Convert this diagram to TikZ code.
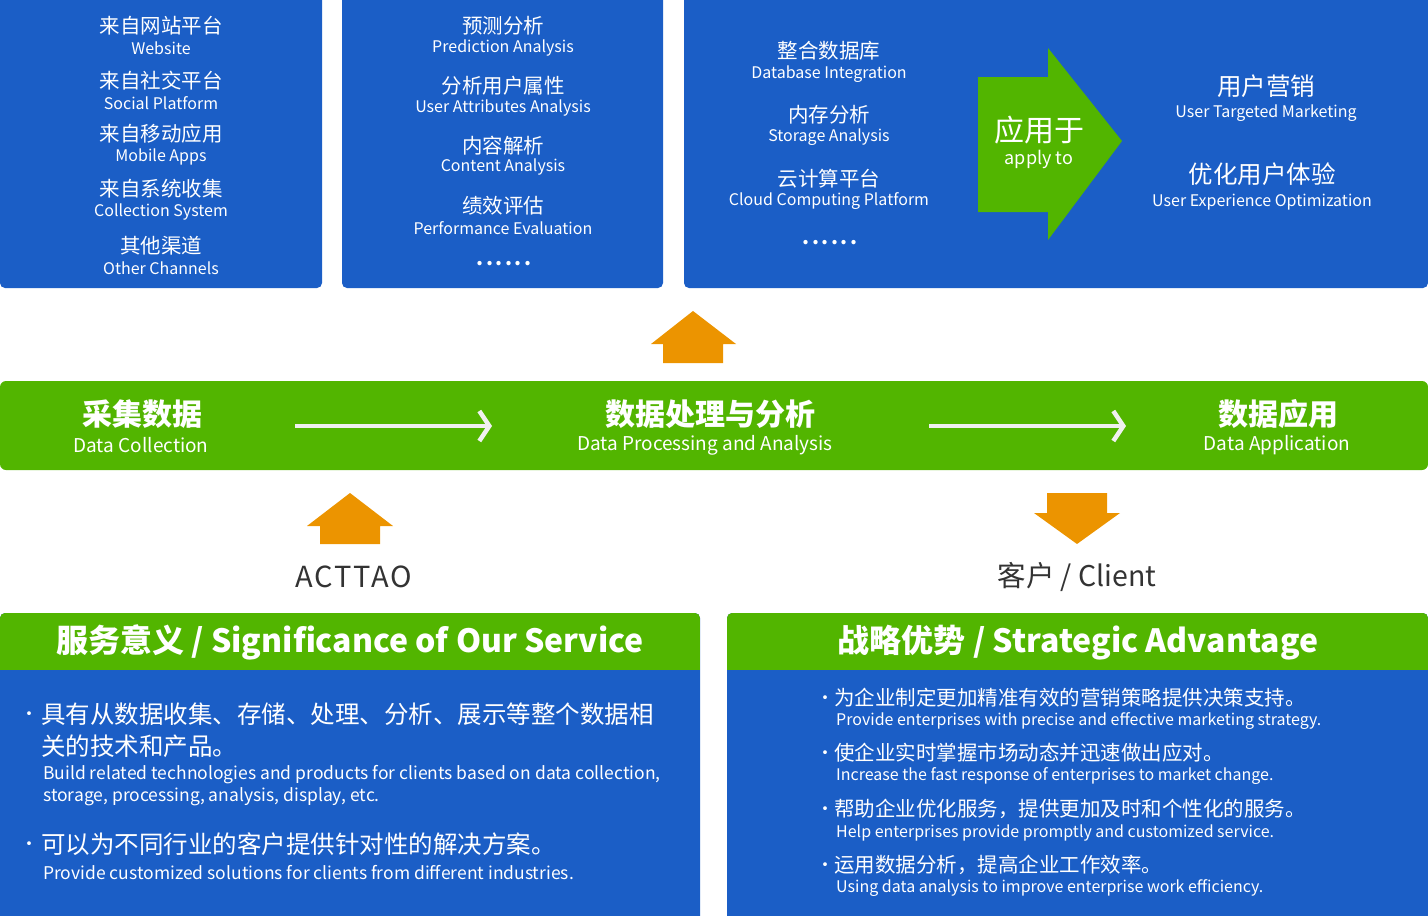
\documentclass[tikz,border=0pt]{standalone}
\usepackage{fontspec}
\setmainfont{Noto Sans CJK SC}
\usetikzlibrary{arrows.meta}
\definecolor{pblue}{HTML}{1B5EC6}
\definecolor{pgreen}{HTML}{52B500}
\definecolor{porange}{HTML}{EC9400}
\definecolor{pgray}{HTML}{333333}
\definecolor{pwhite}{HTML}{F0F0F0}
\newcommand{\fs}[1]{\fontsize{#1}{#1}\selectfont}
\tikzset{
  panel/.style={fill=pblue, rounded corners=5pt},
  band/.style={fill=pgreen, rounded corners=6pt},
  oarrow/.style={fill=porange},
  cn/.style={text=white, inner sep=0pt, yshift=-1pt, font=\fs{20.5}},
  en/.style={text=white, inner sep=0pt, yshift=-1.5pt, font=\fs{16}},
  bcn/.style={text=white, inner sep=0pt, yshift=-1.5pt, font=\fs{30}\bfseries},
  ben/.style={text=white, inner sep=0pt, yshift=-0.5pt, font=\fs{19}},
  hd/.style={text=white, inner sep=0pt, yshift=-1.5pt, font=\fs{32}\bfseries},
  lcn/.style={text=white, inner sep=0pt, anchor=west, yshift=-1pt, font=\fs{24.5}},
  len/.style={text=white, inner sep=0pt, anchor=west, yshift=-1pt, font=\fs{17.5}},
  rcn/.style={text=white, inner sep=0pt, anchor=west, yshift=-1pt, font=\fs{20.5}},
  ren/.style={text=white, inner sep=0pt, anchor=west, yshift=-1pt, font=\fs{16}},
  dot/.style={text=white, inner sep=0pt, yshift=-3pt, font=\fs{18}},
  ell/.style={text=white, inner sep=0pt, font=\fs{20}\bfseries\addfontfeatures{LetterSpace=12}},
  gtxt/.style={text=pgray, inner sep=0pt, yshift=-1pt, font=\fs{28.5}},
  warrow/.style={draw=pwhite, line width=4.5pt, -{Straight Barb[length=10pt,width=30pt,line width=4.5pt]}},
}
\begin{document}
\begin{tikzpicture}[x=1pt,y=-1pt]
\useasboundingbox (0,0) rectangle (1428,916);
% top panels
\fill[panel] (0,-10) rectangle (322,288);
\fill[panel] (342,-10) rectangle (663,288);
\fill[panel] (684,-10) rectangle (1428,288);
% panel 1
\node[cn] (p1a) at (161,25) {来自网站平台};
\node[en] (p1b) at (161,47) {Website};
\node[cn] (p1c) at (161,80) {来自社交平台};
\node[en] (p1d) at (161,102) {Social Platform};
\node[cn] (p1e) at (161,133) {来自移动应用};
\node[en] (p1f) at (161,155) {Mobile Apps};
\node[cn] (p1g) at (161,188) {来自系统收集};
\node[en] (p1h) at (161,210) {Collection System};
\node[cn] (p1i) at (161,245) {其他渠道};
\node[en] (p1j) at (161,267) {Other Channels};
% panel 2
\node[cn] (p2a) at (503,25) {预测分析};
\node[en] (p2b) at (503,47) {Prediction Analysis};
\node[cn] (p2c) at (503,85) {分析用户属性};
\node[en] (p2d) at (503,107) {User Attributes Analysis};
\node[cn] (p2e) at (503,145) {内容解析};
\node[en] (p2f) at (503,166) {Content Analysis};
\node[cn] (p2g) at (503,205) {绩效评估};
\node[en] (p2h) at (503,227) {Performance Evaluation};
\node[ell] (p2i) at (504,264) {......};
% panel 3
\node[cn] (p3a) at (829,50) {整合数据库};
\node[en] (p3b) at (829,73) {Database Integration};
\node[cn] (p3c) at (829,114) {内存分析};
\node[en] (p3d) at (829,136) {Storage Analysis};
\node[cn] (p3e) at (829,178) {云计算平台};
\node[en] (p3f) at (829,200) {Cloud Computing Platform};
\node[ell] (p3g) at (830,243) {......};
\fill[pgreen] (978,77) -- (1048,77) -- (1048,48) -- (1122,141) -- (1048,240) -- (1048,212) -- (978,212) -- cycle;
\node[text=white, inner sep=0pt, yshift=-1pt, font=\fs{30}] (apply) at (1039,129) {应用于};
\node[text=white, inner sep=0pt, yshift=-1.5pt, font=\fs{18}] (applyen) at (1039,158) {apply to};
\node[text=white, inner sep=0pt, yshift=-1pt, font=\fs{24.5}] (p3h) at (1266,85) {用户营销};
\node[en] (p3i) at (1266,112) {User Targeted Marketing};
\node[text=white, inner sep=0pt, yshift=-1pt, font=\fs{24.5}] (p3j) at (1262,173) {优化用户体验};
\node[en] (p3k) at (1262,201) {User Experience Optimization};
% orange up arrow (middle)
\fill[oarrow] (693,311) -- (736,344) -- (723,344) -- (723,363) -- (663,363) -- (663,344) -- (651,344) -- cycle;
% green band
\fill[band] (0,381) rectangle (1428,470);
\node[bcn] (s1) at (142,413) {采集数据};
\node[ben] (s1e) at (141,445) {Data Collection};
\node[bcn] (s2) at (710,413) {数据处理与分析};
\node[ben] (s2e) at (705,445) {Data Processing and Analysis};
\node[bcn] (s3) at (1278,413) {数据应用};
\node[ben] (s3e) at (1277,445) {Data Application};
\coordinate (w1s) at (295,426);
\coordinate (w1e) at (492,426);
\coordinate (w2s) at (929,426);
\coordinate (w2e) at (1126,426);
\draw[warrow] (w1s) -- (w1e);
\draw[warrow] (w2s) -- (w2e);
% orange arrows
\fill[oarrow] (350,493) -- (393,526) -- (380,526) -- (380,544) -- (320,544) -- (320,526) -- (307,526) -- cycle;
\node[gtxt, font=\fs{29}\addfontfeatures{LetterSpace=6}] (acttao) at (354,576) {ACTTAO};
\fill[oarrow] (1047,493) -- (1107,493) -- (1107,513) -- (1120,513) -- (1077,544) -- (1034,513) -- (1047,513) -- cycle;
\node[gtxt] (client) at (1077,576) {客户 / Client};
% bottom left
\fill[panel] (0,613) rectangle (700,926);
\begin{scope}
\clip[rounded corners=5pt] (0,613) rectangle (700,926);
\fill[pgreen] (0,613) rectangle (700,670);
\end{scope}
\node[hd] (h1) at (350,641) {服务意义 / Significance of Our Service};
\node[dot] (bl1d) at (29,713) {·};
\node[lcn] (bl1a) at (41,713) {具有从数据收集、存储、处理、分析、展示等整个数据相};
\node[lcn] (bl1b) at (41,745) {关的技术和产品。};
\node[len] (bl1c) at (43,774) {Build related technologies and products for clients based on data collection,};
\node[len] (bl1e) at (43,796) {storage, processing, analysis, display, etc.};
\node[dot] (bl2d) at (29,843) {·};
\node[lcn] (bl2a) at (41,843) {可以为不同行业的客户提供针对性的解决方案。};
\node[len] (bl2c) at (43,872) {Provide customized solutions for clients from different industries.};
% bottom right
\fill[panel] (727,613) rectangle (1428,926);
\begin{scope}
\clip[rounded corners=5pt] (727,613) rectangle (1428,926);
\fill[pgreen] (727,613) rectangle (1428,670);
\end{scope}
\node[hd] (h2) at (1078,641) {战略优势 / Strategic Advantage};
\node[dot] (br1d) at (825,697) {·};
\node[rcn] (br1a) at (834,697) {为企业制定更加精准有效的营销策略提供决策支持。};
\node[ren] (br1b) at (836,720) {Provide enterprises with precise and effective marketing strategy.};
\node[dot] (br2d) at (825,752) {·};
\node[rcn] (br2a) at (834,752) {使企业实时掌握市场动态并迅速做出应对。};
\node[ren] (br2b) at (836,775) {Increase the fast response of enterprises to market change.};
\node[dot] (br3d) at (825,808) {·};
\node[rcn] (br3a) at (834,808) {帮助企业优化服务，提供更加及时和个性化的服务。};
\node[ren] (br3b) at (836,832) {Help enterprises provide promptly and customized service.};
\node[dot] (br4d) at (825,864) {·};
\node[rcn] (br4a) at (834,864) {运用数据分析，提高企业工作效率。};
\node[ren] (br4b) at (836,887) {Using data analysis to improve enterprise work efficiency.};
\end{tikzpicture}
\end{document}
